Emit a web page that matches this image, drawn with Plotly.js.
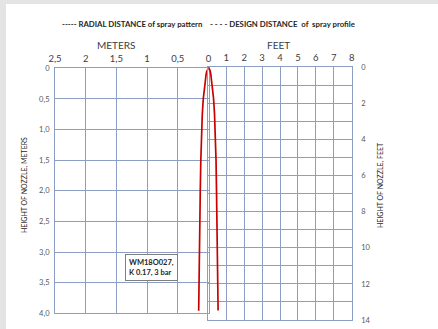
<!DOCTYPE html>
<html>
<head>
<meta charset="utf-8">
<script src="https://cdn.plot.ly/plotly-3.0.1.min.js"></script>
<style>html,body{margin:0;padding:0;background:#fff;}#chart{width:438px;height:329px;}</style>
</head>
<body>
<div id="chart"></div>
<script>
// Tick values and labels
const meterTicks = [2.5, 2, 1.5, 1, 0.5, 0];
const meterTickText = ['2,5', '2', '1,5', '1', '0,5', '0'];
const feetTicks = [0, 1, 2, 3, 4, 5, 6, 7, 8];
const feetTickText = ['', '1', '2', '3', '4', '5', '6', '7', '8'];
const heightMTicks = [0, 0.5, 1, 1.5, 2, 2.5, 3, 3.5, 4];
const heightMTickText = ['0', '0,5', '1,0', '1,5', '2,0', '2,5', '3,0', '3,5', '4,0'];
const heightFtTicks = [0, 1, 2, 3, 4, 5, 6, 7, 8, 9, 10, 11, 12, 13, 14];
const heightFtTickText = ['0', '', '2', '', '4', '', '6', '', '8', '', '10', '', '12', '', '14'];

// Spray profile, left half (meters)
const depthM = [0, 0.02, 0.05, 0.1, 0.2, 0.3, 0.5, 0.75, 1.0, 1.5, 2.0, 2.5, 3.0, 3.5, 3.96];
const radialM = [0, 0.016, 0.028, 0.039, 0.052, 0.065, 0.085, 0.101, 0.111, 0.125, 0.134, 0.140, 0.147, 0.153, 0.160];
// Spray profile, right half (feet)
const depthFt = [0, 0.07, 0.17, 0.34, 0.68, 1.02, 1.70, 2.55, 3.40, 5.10, 6.81, 8.51, 10.21, 11.91, 13.48];
const radialFt = [0, 0.056, 0.095, 0.134, 0.179, 0.223, 0.29, 0.346, 0.38, 0.43, 0.458, 0.48, 0.503, 0.525, 0.547];

const legendLeft = '----- RADIAL DISTANCE of spray pattern';
const legendRight = '- - - - DESIGN DISTANCE  of  spray profile';
const boxText = 'WM18O027,<br>K 0.17, 3 bar';

const W = 438, H = 329;
const px = v => v / W;
const py = v => (H - v) / H;

const gridC = '#8c9fc2';
const txtC = '#404040';
const FONT = 'Lato, "Open Sans", sans-serif';

const traces = [
  {x: radialM, y: depthM, xaxis: 'x', yaxis: 'y', mode: 'lines', line: {color: '#c80000', width: 1.7}, hoverinfo: 'none', showlegend: false},
  {x: radialFt, y: depthFt, xaxis: 'x2', yaxis: 'y2', mode: 'lines', line: {color: '#c80000', width: 1.7}, hoverinfo: 'none', showlegend: false}
];

const axBase = {
  showgrid: true, gridcolor: gridC, gridwidth: 1, zeroline: false,
  showline: true, mirror: true, linecolor: gridC, linewidth: 1,
  ticks: '', tickmode: 'array', fixedrange: true
};

const layout = {
  width: W, height: H,
  margin: {l: 0, r: 0, t: 0, b: 0},
  paper_bgcolor: '#ffffff', plot_bgcolor: 'rgba(0,0,0,0)',
  showlegend: false,
  font: {family: FONT, color: txtC},
  xaxis: Object.assign({}, axBase, {
    domain: [px(55), px(208.5)], range: [2.5, 0], side: 'top', anchor: 'y',
    tickvals: meterTicks, ticktext: meterTickText,
    tickfont: {size: 9.5, color: txtC, family: FONT}, ticklabelstandoff: 2
  }),
  yaxis: Object.assign({}, axBase, {
    domain: [py(313.3), py(68.3)], range: [4, 0], anchor: 'x',
    tickvals: heightMTicks, ticktext: heightMTickText,
    tickfont: {size: 7.5, color: '#595959', family: FONT}, ticklabelstandoff: 3
  }),
  xaxis2: Object.assign({}, axBase, {
    domain: [px(208.3), px(351.7)], range: [0, 8], side: 'top', anchor: 'y2',
    tickvals: feetTicks, ticktext: feetTickText,
    tickfont: {size: 9.5, color: txtC, family: FONT}, ticklabelstandoff: 2
  }),
  yaxis2: Object.assign({}, axBase, {
    domain: [py(320), py(67.3)], range: [14, 0], side: 'right', anchor: 'x2',
    tickvals: heightFtTicks, ticktext: heightFtTickText,
    tickfont: {size: 7.5, color: '#595959', family: FONT}, ticklabelstandoff: 7
  }),
  shapes: [
    {type: 'rect', xref: 'paper', yref: 'paper', x0: 0, x1: px(6), y0: 0, y1: 1, fillcolor: '#e4e4e4', line: {width: 0}, layer: 'below'},
    {type: 'rect', xref: 'paper', yref: 'paper', x0: 0, x1: 1, y0: py(4), y1: 1, fillcolor: '#e4e4e4', line: {width: 0}, layer: 'below'}
  ],
  annotations: [
    {xref: 'paper', yref: 'paper', x: px(60), y: py(24), xanchor: 'left', yanchor: 'middle', text: '<b>' + legendLeft + '</b>', showarrow: false, font: {size: 7.8, color: '#262626', family: FONT}},
    {xref: 'paper', yref: 'paper', x: px(208), y: py(24), xanchor: 'left', yanchor: 'middle', text: '<b>' + legendRight + '</b>', showarrow: false, font: {size: 7.8, color: '#262626', family: FONT}},
    {xref: 'paper', yref: 'paper', x: px(115.7), y: py(45), xanchor: 'center', yanchor: 'middle', text: 'METERS', showarrow: false, font: {size: 10, color: txtC, family: FONT}},
    {xref: 'paper', yref: 'paper', x: px(278), y: py(45), xanchor: 'center', yanchor: 'middle', text: 'FEET', showarrow: false, font: {size: 10, color: txtC, family: FONT}},
    {xref: 'paper', yref: 'paper', x: px(25), y: py(185), xanchor: 'center', yanchor: 'middle', text: 'HEIGHT OF NOZZLE, METERS', textangle: -90, showarrow: false, font: {size: 7, color: '#262626', family: FONT}},
    {xref: 'paper', yref: 'paper', x: px(381), y: py(185), xanchor: 'center', yanchor: 'middle', text: 'HEIGHT OF NOZZLE, FEET', textangle: -90, showarrow: false, font: {size: 7, color: '#262626', family: FONT}},
    {xref: 'paper', yref: 'paper', x: px(125), y: py(254), xanchor: 'left', yanchor: 'top', text: '<b>' + boxText + '</b>', align: 'left', showarrow: false, bgcolor: '#ffffff', bordercolor: '#7f7f7f', borderwidth: 1, borderpad: 3, font: {size: 7.5, color: '#262626', family: FONT}}
  ]
};

Plotly.newPlot('chart', traces, layout, {staticPlot: true, displayModeBar: false});
</script>
</body>
</html>
